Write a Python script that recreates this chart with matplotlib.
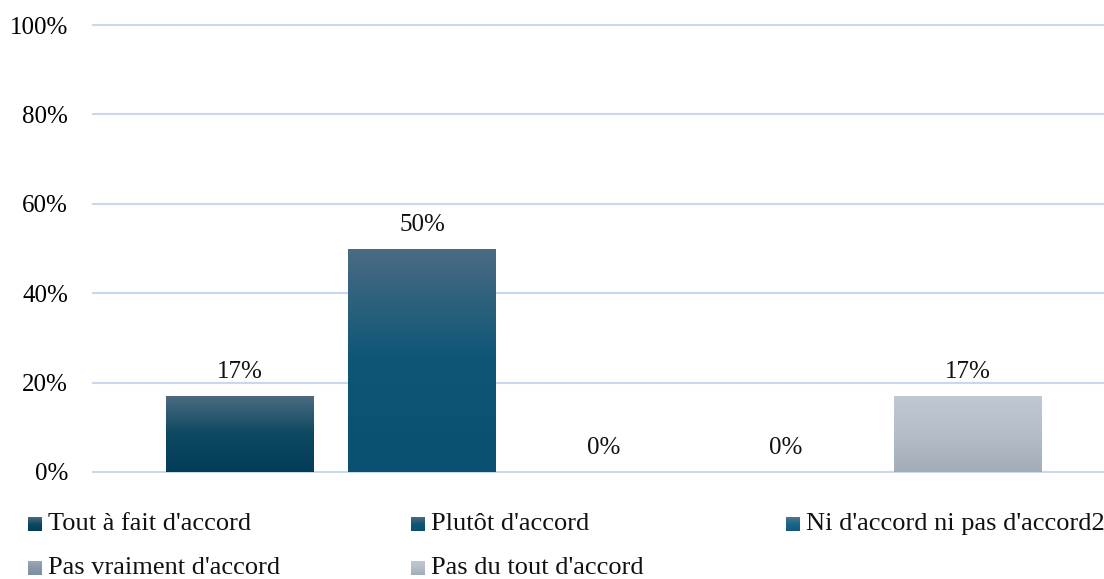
import numpy as np
import matplotlib.pyplot as plt
from matplotlib.colors import LinearSegmentedColormap

plt.rcParams['font.family'] = ['Liberation Serif', 'DejaVu Serif']

categories = ["Tout à fait d'accord", "Plutôt d'accord", "Ni d'accord ni pas d'accord2",
              "Pas vraiment d'accord", "Pas du tout d'accord"]
values = [0.17, 0.50, 0.0, 0.0, 0.17]
labels = ["17%", "50%", "0%", "0%", "17%"]
yticks = [0, 0.2, 0.4, 0.6, 0.8, 1.0]
ytick_labels = ["0%", "20%", "40%", "60%", "80%", "100%"]

# gradient colours (top, middle, bottom) for each series
grads = [
    ["#4b6a80", "#0d4862", "#033c58"],
    ["#4b6b83", "#0d5676", "#0a5070"],
    ["#4d7590", "#1a6688", "#0f5a7c"],
    ["#9aa8b8", "#8796a8", "#7f8fa2"],
    ["#c0c8d2", "#b4bec9", "#a2adb8"],
]

W, H = 1104, 579
fig = plt.figure(figsize=(W / 100, H / 100), dpi=100)
ax = fig.add_axes([93 / W, 1 - 472 / H, (W - 93) / W, (472 - 25) / H])

x = np.arange(len(values))
bw = 148 / 182

for i, (v, g) in enumerate(zip(values, grads)):
    cmap = LinearSegmentedColormap.from_list('g%d' % i, g[::-1])
    if v > 0:
        bar = ax.bar(x[i], v, width=bw, color='none', zorder=3)[0]
        grad = np.linspace(0, 1, 256).reshape(-1, 1)
        im = ax.imshow(grad, cmap=cmap, aspect='auto', origin='lower',
                       extent=[x[i] - bw / 2, x[i] + bw / 2, 0, v], zorder=3)
        im.set_clip_path(bar)
    ax.text(x[i], v + 0.029, labels[i], ha='center', va='bottom', fontsize=18, color='#111111')

ax.set_xlim(-0.808, 4.747)
ax.set_ylim(0, 1)
for t in yticks:
    ax.axhline(t, color='#c6d9f0', lw=1.5, zorder=1, clip_on=False)
ax.set_yticks(yticks)
ax.set_yticklabels(ytick_labels, fontsize=18)
ax.tick_params(axis='y', length=0, pad=18)
ax.set_xticks([])
for s in ax.spines.values():
    s.set_visible(False)

# legend drawn by hand, three columns
col_x = [28, 411, 786]
row_y = [524, 568]
for i, (name, g) in enumerate(zip(categories, grads)):
    cx = col_x[i % 3]
    cy = row_y[i // 3]
    lax = fig.add_axes([cx / W, 1 - (cy + 7) / H, 14 / W, 14 / H])
    cmap = LinearSegmentedColormap.from_list('l%d' % i, g[::-1])
    lax.imshow(np.linspace(0, 1, 64).reshape(-1, 1), cmap=cmap, aspect='auto', origin='lower')
    lax.axis('off')
    fig.text((cx + 20) / W, 1 - cy / H, name, fontsize=19, va='center', ha='left', color='#111111')

fig.savefig('out.png', dpi=100)
